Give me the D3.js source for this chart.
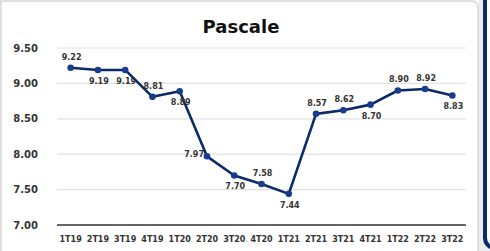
<!DOCTYPE html>
<html>
<head>
<meta charset="utf-8">
<script src="https://cdn.jsdelivr.net/npm/d3@7"></script>
<style>
  html, body { margin: 0; padding: 0; background: #fff; overflow: hidden; }
  text { font-family: "DejaVu Sans", sans-serif; font-weight: bold; }
</style>
</head>
<body>
<div class="main"></div>
<script>
const quarters = ["1T19", "2T19", "3T19", "4T19", "1T20", "2T20", "3T20", "4T20",
    "1T21", "2T21", "3T21", "4T21", "1T22", "2T22", "3T22"];
const scores = [9.22, 9.19, 9.19, 8.81, 8.89, 7.97, 7.70, 7.58,
    7.44, 8.57, 8.62, 8.70, 8.90, 8.92, 8.83];
const yTicks = [7.00, 7.50, 8.00, 8.50, 9.00, 9.50];

// where each value label sits relative to its point
const labelSide = ["above", "below", "below", "above", "below", "left", "below", "above",
    "below", "above", "above", "below", "above", "above", "below"];

const width = 490, height = 251;
const margin = { left: 57, right: 24, top: 48, bottom: 26 };

const svg = d3.select(".main").append("svg")
    .attr("width", width)
    .attr("height", height);

// outer frame bits
svg.append("rect")
    .attr("x", 479).attr("y", 0).attr("width", 11).attr("height", height)
    .attr("fill", "#ececec");
svg.append("rect")
    .attr("x", 485).attr("y", -12).attr("width", 30).attr("height", 260)
    .attr("rx", 10)
    .attr("fill", "#fff")
    .attr("stroke", "#0b2a6a")
    .attr("stroke-width", 4);
svg.append("path")
    .attr("d", "M1,260 V1 H471 Q478,1 478,8 V260")
    .attr("fill", "#fff")
    .attr("stroke", "#dedede")
    .attr("stroke-width", 2);

const x = d3.scalePoint()
    .domain(quarters)
    .range([margin.left, width - margin.right])
    .padding(0.5);

const y = d3.scaleLinear()
    .domain([7, 9.5])
    .range([height - margin.bottom, margin.top]);

svg.append("text")
    .text("Pascale")
    .attr("x", 241)
    .attr("y", 33)
    .attr("text-anchor", "middle")
    .attr("font-size", 18)
    .attr("fill", "#111");

// gridlines + y labels
const grid = svg.append("g");
yTicks.forEach(t => {
    grid.append("line")
        .attr("x1", margin.left).attr("x2", width - margin.right)
        .attr("y1", y(t)).attr("y2", y(t))
        .attr("stroke", t === 7 ? "#333" : "#e2e2e2")
        .attr("stroke-width", t === 7 ? 1.5 : 1.2);
    grid.append("text")
        .text(t.toFixed(2))
        .attr("x", 38)
        .attr("y", y(t) + 3.5)
        .attr("text-anchor", "end")
        .attr("font-size", 10)
        .attr("fill", "#333");
});

// x labels
svg.append("g").selectAll("text")
    .data(quarters)
    .join("text")
    .text(d => d)
    .attr("x", d => x(d))
    .attr("y", 242)
    .attr("text-anchor", "middle")
    .attr("font-size", 8)
    .attr("fill", "#333");

const pts = quarters.map((q, i) => ({ q: q, v: scores[i], side: labelSide[i] }));

const line = d3.line()
    .x(d => x(d.q))
    .y(d => y(d.v));

svg.append("path")
    .datum(pts)
    .attr("d", line)
    .attr("fill", "none")
    .attr("stroke", "#0b2a6a")
    .attr("stroke-width", 2.6)
    .attr("stroke-linejoin", "round");

svg.append("g").selectAll("circle")
    .data(pts)
    .join("circle")
    .attr("cx", d => x(d.q))
    .attr("cy", d => y(d.v))
    .attr("r", 3.3)
    .attr("fill", "#173d8c");

svg.append("g").selectAll("text")
    .data(pts)
    .join("text")
    .text(d => d.v.toFixed(2))
    .attr("x", d => d.side === "left" ? x(d.q) - 3 : x(d.q) + 1)
    .attr("y", d => {
        if (d.side === "above") return y(d.v) - 8;
        if (d.side === "below") return y(d.v) + 14;
        return y(d.v) + 1;
    })
    .attr("text-anchor", d => d.side === "left" ? "end" : "middle")
    .attr("font-size", 8)
    .attr("fill", "#333");
</script>
</body>
</html>
